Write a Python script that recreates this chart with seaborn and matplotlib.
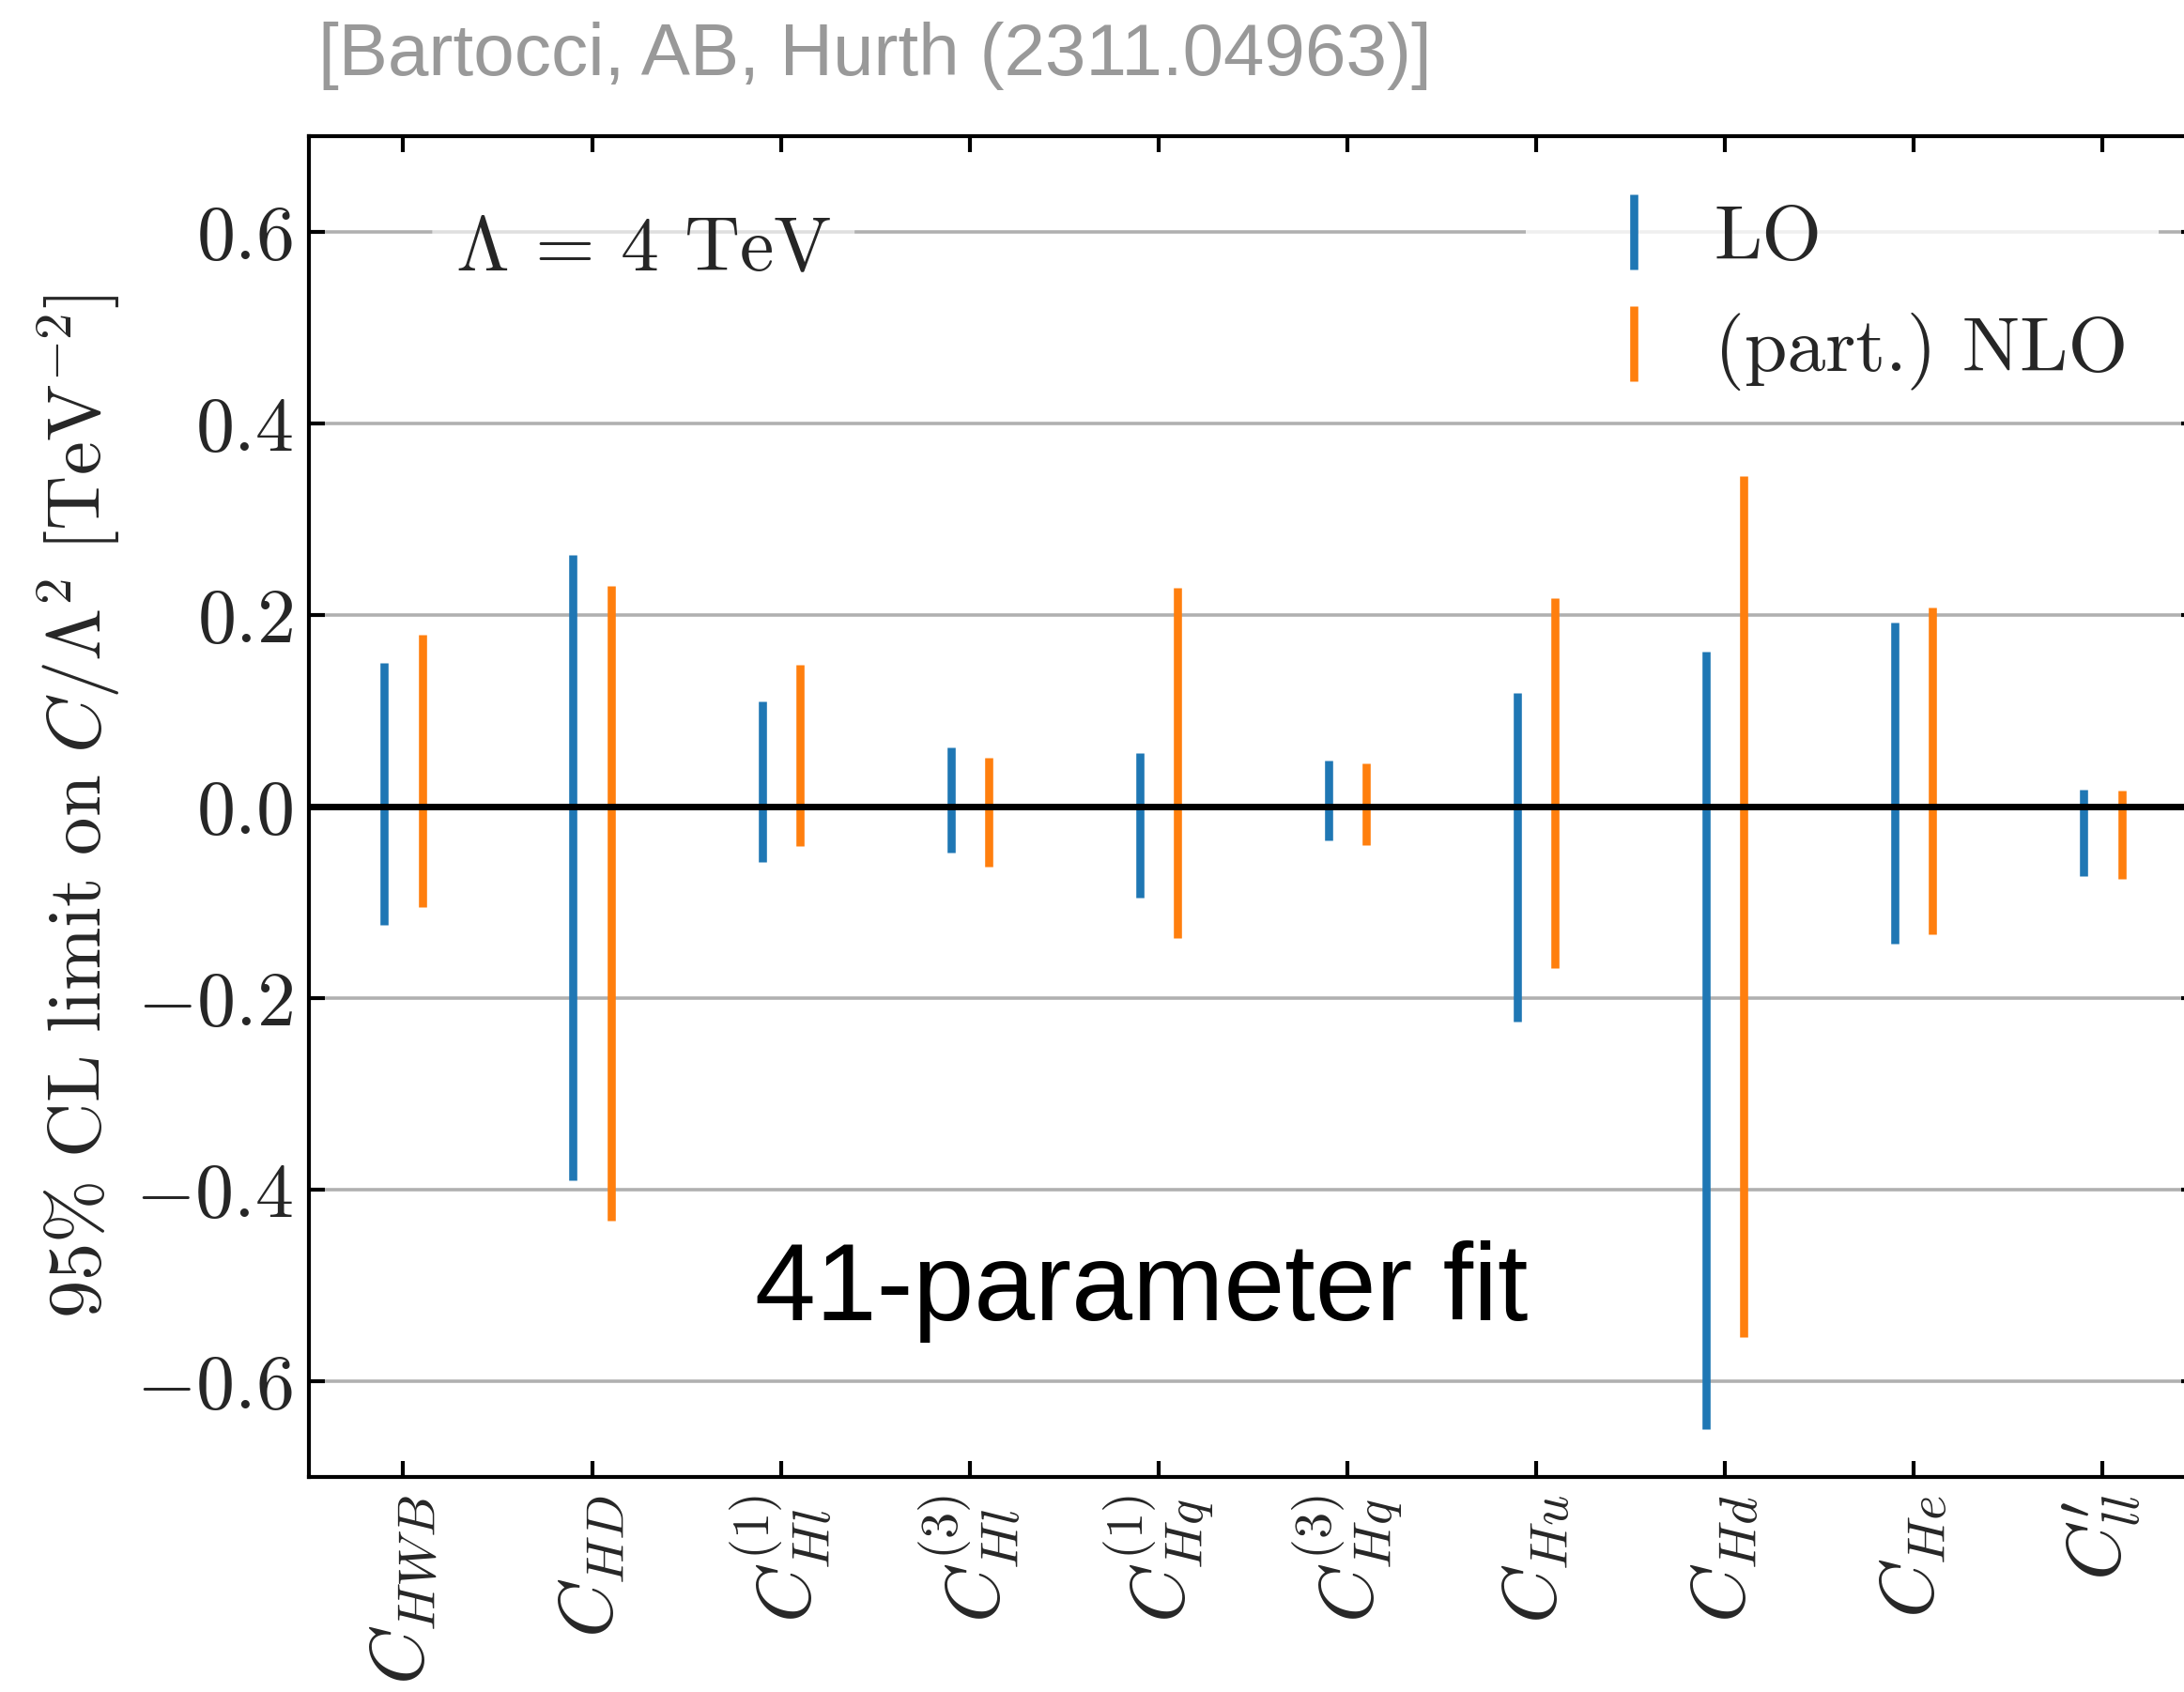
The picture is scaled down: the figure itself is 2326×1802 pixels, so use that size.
import numpy as np
import pandas as pd
import matplotlib
matplotlib.use("Agg")
import matplotlib.pyplot as plt
import seaborn as sns
from matplotlib.lines import Line2D

# ---------------- data ----------------
coefficients = [r"$C_{HWB}$", r"$C_{HD}$", r"$C_{Hl}^{(1)}$", r"$C_{Hl}^{(3)}$",
                r"$C_{Hq}^{(1)}$", r"$C_{Hq}^{(3)}$", r"$C_{Hu}$", r"$C_{Hd}$",
                r"$C_{He}$", r"$C^{\prime}_{ll}$"]
lo_lower = [-0.124, -0.391, -0.058, -0.048, -0.096, -0.036, -0.225, -0.650, -0.144, -0.073]
lo_upper = [0.150, 0.262, 0.109, 0.061, 0.055, 0.048, 0.118, 0.161, 0.192, 0.017]
nlo_lower = [-0.105, -0.433, -0.042, -0.063, -0.138, -0.041, -0.169, -0.554, -0.134, -0.076]
nlo_upper = [0.179, 0.230, 0.148, 0.051, 0.228, 0.045, 0.217, 0.345, 0.207, 0.016]
orders = ["LO", "NLO"]
legend_labels = ["LO", "(part.) NLO"]
yticks = [-0.6, -0.4, -0.2, 0.0, 0.2, 0.4, 0.6]
ytick_labels = [r"$-0.6$", r"$-0.4$", r"$-0.2$", r"$0.0$", r"$0.2$", r"$0.4$", r"$0.6$"]
colors = ["#1f77b4", "#ff7f0e"]

rows = []
for i, c in enumerate(coefficients):
    rows.append((c, "LO", lo_lower[i]))
    rows.append((c, "LO", lo_upper[i]))
    rows.append((c, "NLO", nlo_lower[i]))
    rows.append((c, "NLO", nlo_upper[i]))
df = pd.DataFrame(rows, columns=["coef", "order", "value"])

# ---------------- style ----------------
sns.set_style("ticks")
plt.rcParams["mathtext.fontset"] = "cm"
plt.rcParams["font.family"] = ["Liberation Sans", "DejaVu Sans"]

fig = plt.figure(figsize=(11.63, 9.01), dpi=200)
ax = fig.add_axes([0.1414, 0.1273, 0.8646, 0.7925])

sns.pointplot(data=df, x="coef", y="value", hue="order", order=coefficients,
              hue_order=orders, palette=colors, errorbar=("pi", 100), dodge=0.2,
              linestyle="none", marker="", legend=False,
              err_kws={"linewidth": 3.1, "solid_capstyle": "butt", "zorder": 2},
              ax=ax)

ax.set_xlim(-0.5, 9.5)
ax.set_ylim(-0.7, 0.7)
ax.set_yticks(yticks)
ax.set_yticklabels(ytick_labels)
ax.yaxis.grid(True, color="#b0b0b0", linewidth=1.3, zorder=0)
ax.xaxis.grid(False)
ax.set_axisbelow(True)
ax.axhline(0.0, color="black", linewidth=2.5, zorder=3)

ax.set_xlabel("")
ax.set_ylabel(r"$95\%\ \mathrm{CL\ limit\ on}\ C/\Lambda^2\ [\mathrm{TeV}^{-2}]$",
              fontsize=29.1, labelpad=5)

ax.tick_params(axis="both", which="both", direction="in", top=True, right=True,
               length=6, width=1.5, color="black")
ax.tick_params(axis="y", labelsize=29.5, pad=6)
ax.tick_params(axis="x", labelsize=29, labelrotation=90, pad=7)
for s in ax.spines.values():
    s.set_linewidth(1.5)
    s.set_color("black")
    s.set_visible(True)

handles = [Line2D([], [], color=col, marker="|", linestyle="none",
                  markersize=29, markeredgewidth=3.1) for col in colors]
leg = ax.legend(handles, legend_labels, loc="upper right",
                prop={"family": "cmr10", "size": 29.5},
                frameon=True, framealpha=0.8, edgecolor="none", fancybox=True,
                handlelength=2.0, handletextpad=0.05)

ax.text(0.0776, 0.8995, r"$\Lambda$ = $4$ TeV", transform=ax.transAxes,
        fontsize=29.5, va="baseline", ha="left", family="cmr10",
        bbox=dict(boxstyle="round,pad=0.3", fc="white", ec="none", alpha=0.6))

ax.text(0.441, 0.1166, "41-parameter fit", transform=ax.transAxes,
        fontsize=42, ha="center", va="baseline", color="black",
        family="Liberation Sans")

fig.text(0.1457, 0.9556, "[Bartocci, AB, Hurth (2311.04963)]", fontsize=28.2,
         color="#999999", family="Liberation Sans", ha="left", va="baseline")

fig.savefig("out.png", dpi=200)
